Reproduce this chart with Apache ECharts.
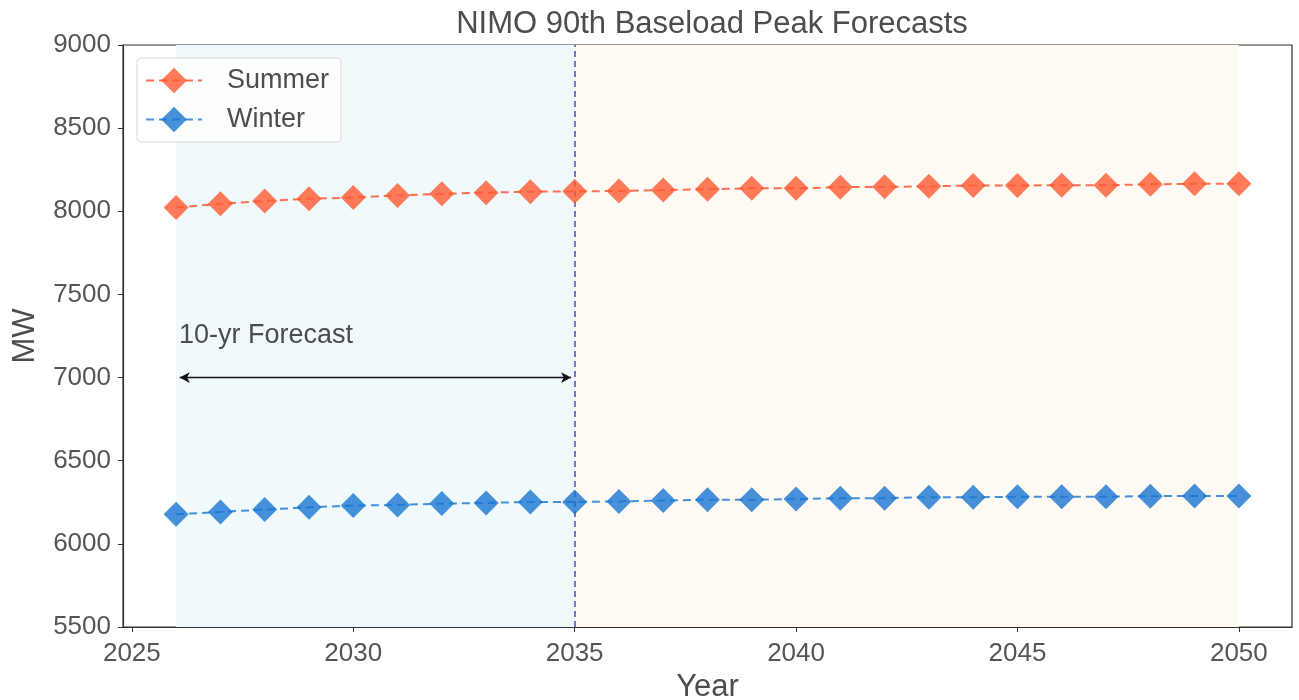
<!DOCTYPE html>
<html>
<head>
<meta charset="utf-8">
<script src="https://cdn.jsdelivr.net/npm/echarts@6/dist/echarts.min.js"></script>
<style>html,body{margin:0;padding:0;background:#fff}#c{width:1299px;height:700px}</style>
</head>
<body>
<div id="c"></div>
<script>
const years = [2026,2027,2028,2029,2030,2031,2032,2033,2034,2035,2036,2037,2038,2039,2040,2041,2042,2043,2044,2045,2046,2047,2048,2049,2050];
const summer = [8023,8045,8062,8075,8083,8095,8105,8112,8118,8120,8122,8128,8133,8138,8138,8145,8147,8150,8155,8155,8157,8157,8162,8165,8165];
const winter = [6178,6192,6206,6220,6230,6234,6242,6246,6252,6252,6255,6260,6265,6265,6270,6275,6275,6280,6280,6283,6283,6284,6287,6288,6288];
const xTicks = [2025,2030,2035,2040,2045,2050];
const forecastStart = 2026, forecastEnd = 2035, horizonEnd = 2050;
const arrowY = 7000, annotY = 7250, annotText = '10-yr Forecast';

const font = 'Liberation Sans, Arial, sans-serif';
const chart = echarts.init(document.getElementById('c'), null, {renderer:'canvas'});
const pairs = arr => years.map((y,i)=>[y, arr[i]]);

chart.setOption({
  animation:false,
  backgroundColor:'#ffffff',
  title:{text:'NIMO 90th Baseload Peak Forecasts', left:707, textAlign:'center', top:4,
    textStyle:{fontFamily:font, fontSize:31, fontWeight:'normal', color:'#4d4d4d'}},
  grid:{left:123, right:7, top:45, bottom:73, outerBoundsMode:'none', containLabel:false,
    show:true, borderColor:'#333', borderWidth:1.2, backgroundColor:'transparent'},
  legend:{left:137, top:58, orient:'vertical', itemGap:12, itemWidth:56, itemHeight:32,
    padding:[9,12,9,8], backgroundColor:'rgba(255,255,255,0.8)', borderColor:'#d8d8d8', borderWidth:1, borderRadius:4,
    textStyle:{fontFamily:font, fontSize:27, color:'#4d4d4d', padding:[0,0,0,20]},
    data:['Summer','Winter']},
  xAxis:{type:'value', min:2024.8, max:2051.2,
    name:'Year', nameLocation:'middle', nameGap:43,
    nameTextStyle:{fontFamily:font, fontSize:31, color:'#4d4d4d'},
    axisLine:{show:true, lineStyle:{color:'#333', width:1.2}},
    axisTick:{show:true, length:5, customValues:xTicks, lineStyle:{color:'#333'}},
    axisLabel:{customValues:xTicks, fontFamily:font, fontSize:26, color:'#555', margin:14,
      formatter:v=>String(v)},
    splitLine:{show:false}},
  yAxis:{type:'value', min:5500, max:9000, interval:500,
    name:'MW', nameLocation:'middle', nameGap:82, nameRotate:90,
    nameTextStyle:{fontFamily:font, fontSize:31, color:'#4d4d4d'},
    axisLine:{show:true, lineStyle:{color:'#333', width:1.2}},
    axisTick:{show:true, length:5, lineStyle:{color:'#333'}},
    axisLabel:{fontFamily:font, fontSize:26, color:'#555', margin:12,
      formatter:v=>String(v)},
    splitLine:{show:false}},
  series:[
    {name:'Summer', type:'line', data:pairs(summer), symbol:'diamond', symbolSize:25, z:5,
      lineStyle:{color:'rgba(255,87,51,0.85)', width:2, type:[8,5]},
      itemStyle:{color:'rgba(255,90,50,0.8)', borderWidth:0},
      markArea:{silent:true, data:[
        [{xAxis:forecastStart, itemStyle:{color:'#f0f9fb'}},{xAxis:forecastEnd}],
        [{xAxis:forecastEnd, itemStyle:{color:'#fffaf4'}},{xAxis:horizonEnd}]
      ], itemStyle:{opacity:1}},
      markLine:{silent:true, symbol:['none','none'], label:{show:false},
        lineStyle:{color:'#4b4bb5', width:1.5, type:[6,4]},
        data:[{xAxis:forecastEnd}]}
    },
    {name:'Winter', type:'line', data:pairs(winter), symbol:'diamond', symbolSize:25, z:5,
      lineStyle:{color:'rgba(25,118,210,0.8)', width:2, type:[8,5]},
      itemStyle:{color:'rgba(25,118,210,0.8)', borderWidth:0},
      markLine:{silent:true, symbol:['arrow','arrow'], symbolSize:[8,10], label:{show:false},
        lineStyle:{color:'#111', width:1.3, type:'solid'},
        data:[[{coord:[forecastStart+0.08, arrowY]},{coord:[forecastEnd-0.08, arrowY]}]]},
      markPoint:{silent:true, symbol:'circle', symbolSize:1, itemStyle:{color:'transparent'},
        data:[{coord:[forecastStart+0.03, annotY],
          label:{show:true, formatter:annotText, position:'right', offset:[-4,0],
            fontFamily:font, fontSize:27, color:'#4d4d4d'}}]}
    }
  ]
});
</script>
</body>
</html>
